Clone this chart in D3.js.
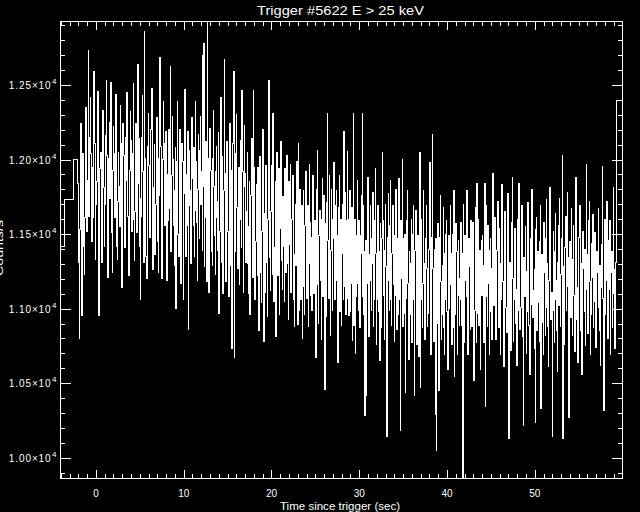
<!DOCTYPE html>
<html>
<head>
<meta charset="utf-8">
<script src="https://cdn.jsdelivr.net/npm/d3@7"></script>
<style>
  html, body { margin: 0; padding: 0; background: #000; }
  svg { display: block; }
  text { fill: #fff; font-family: "Liberation Sans", Arial, sans-serif; }
</style>
</head>
<body>
<div id="chart"></div>
<script>
/* BATSE light curve - Trigger #5622, E > 25 keV */

const chartTitle = 'Trigger #5622 E > 25 keV';
const xTitle = 'Time since trigger (sec)';
const yTitle = 'Counts/s';

// Coarse 1.024 s bins before the fine data starts
const preEdges = [-4.608, -3.584, -2.56, -2.048];
const preRates = [11420, 11730, 12000];

// Fine 64 ms bins starting at -2.048 s
const fineStart = -2.048;
const fineWidth = 0.064;
const fineRates = [
  11840, 11310, 10802, 11530, 11930, 12240, 12190, 10952, 12040, 11720, 11420, 11230, 11610, 12140, 12350, 11950, 11520, 11860, 12735, 11620,
  11720, 12150, 12420, 12040, 11450, 11540, 11950, 11610, 12594, 12230, 12110, 11330, 11700, 11850, 12020, 12460, 11510, 10952, 11250, 11940,
  12050, 11600, 11310, 11520, 12330, 11920, 11810, 11420, 11700, 12160, 12530, 12030, 11640, 11210, 11500, 12010, 12250, 11740, 12515, 11850,
  11510, 11240, 11930, 12220, 12040, 11610, 12150, 12440, 11960, 11420, 11330, 11720, 12050, 11820, 11550, 12360, 12110, 11650, 11140, 11930,
  12240, 12030, 11740, 11410, 11520, 12150, 11860, 12450, 12010, 11620, 11220, 11430, 11930, 12320, 12130, 11710, 11520, 12040, 12510, 11600,
  11320, 11650, 12020, 12240, 11950, 11510, 12641, 11840, 12140, 11420, 11740, 11064, 11620, 12150, 12430, 11920, 11530, 11310, 12862, 12010,
  11790, 11350, 11200, 11690, 12090, 12310, 11960, 11560, 11480, 11890, 12200, 12480, 11870, 11260, 11570, 11810, 12100, 11360, 11700, 11990,
  12280, 11870, 11450, 11240, 12010, 11760, 12688, 12090, 11650, 11205, 11370, 12000, 12390, 12110, 11560, 11690, 12190, 11480, 11190, 11900,
  11590, 12120, 12200, 11670, 12627, 11380, 11460, 11890, 12290, 12000, 11560, 11290, 11790, 12080, 11003, 11660, 11990, 12390, 11500, 11350,
  11880, 12200, 11570, 11170, 11690, 12110, 11990, 11064, 11770, 12280, 12470, 11480, 11350, 11900, 11560, 12190, 10862, 11690, 12060, 11790,
  11460, 11300, 12000, 12280, 11870, 11560, 12080, 11350, 11660, 12390, 11990, 11580, 11190, 11800, 12170, 11900, 11470, 12060, 12290, 11700,
  11920, 11390, 12700, 11820, 12780, 11280, 11610, 12120, 11700, 11180, 12930, 12010, 11480, 11110, 11800, 12210, 11930, 11380, 11710, 11290,
  12010, 12330, 11820, 11490, 11230, 11920, 12090, 11610, 11390, 11720, 12180, 10968, 11520, 11900, 12420, 11310, 11580, 12020, 11100, 11790,
  12672, 11910, 11420, 11180, 11690, 12120, 11790, 11520, 11080, 12000, 12240, 11640, 11290, 11930, 10733, 11470, 12110, 12594, 10670, 11810,
  11380, 12040, 12300, 11680, 11270, 11520, 11950, 11160, 11790, 12130, 11600, 11410, 12466, 11920, 11110, 11820, 12230, 11910, 11470, 11310,
  11650, 12050, 11300, 11100, 11550, 11850, 10960, 11330, 11760, 12140, 11620, 11210, 12466, 11420, 11950, 11060, 11450, 11830, 11740, 11220,
  11950, 11420, 10856, 11770, 12020, 11240, 11040, 11520, 11840, 12200, 11320, 10777, 11640, 11110, 11960, 11720, 11310, 10950, 11600, 11860,
  12533, 11340, 11120, 11650, 11960, 11720, 11230, 12310, 11510, 11050, 11410, 11850, 10811, 11290, 12050, 11650, 11220, 11940, 10960, 11540,
  11860, 12120, 11640, 11320, 11130, 11750, 11420, 11050, 11940, 11620, 11240, 11510, 12030, 11300, 10930, 11850, 11730, 11430, 11970, 11110,
  11160, 11600, 11890, 11470, 11060, 10880, 11360, 11700, 11290, 11990, 11570, 10894, 12108, 10990, 11170, 11800, 11450, 11060, 11690, 10800,
  11470, 11790, 11150, 10960, 11560, 11920, 11290, 11070, 11390, 11690, 10880, 11300, 11970, 11580, 11090, 11480, 10990, 11720, 11890, 11210,
  11100, 11360, 11590, 10670, 11280, 11800, 12060, 11160, 10900, 11490, 11660, 11190, 11410, 10790, 11600, 11870, 11080, 11470, 11760, 10458,
  11570, 10950, 11290, 11710, 12310, 11460, 11070, 11890, 11160, 10820, 11390, 11800, 11600, 10990, 11470, 11980, 11300, 11060, 11690, 11190,
  11790, 11490, 10636, 11160, 11680, 11890, 10980, 11270, 11600, 10890, 11370, 11700, 11060, 12190, 11470, 11150, 11780, 10960, 11590, 12057,
  11070, 11600, 10952, 11400, 11790, 10980, 11170, 11680, 10785, 11490, 12310, 10890, 11270, 11600, 10700, 11080, 11490, 11860, 11170, 10990,
  11590, 11300, 10870, 11490, 11760, 11370, 12310, 11080, 11690, 10960, 11380, 10280, 11460, 10420, 11170, 11570, 11880, 11100, 10810, 11360,
  11690, 11190, 10990, 11470, 11300, 11780, 10880, 11060, 11590, 11940, 11370, 10760, 11060, 11490, 11690, 10980, 11380, 10654, 11570, 11180,
  10870, 11470, 12048, 11590, 11090, 10790, 11390, 11700, 11280, 10970, 10140, 11480, 11770, 11190, 10990, 11560, 11860, 11060, 10890, 11370,
  11690, 11160, 11490, 10780, 11090, 11580, 11800, 11290, 10860, 11470, 10960, 11870, 11370, 11060, 10185, 11590, 11200, 12001, 10880, 11470,
  11290, 10970, 11500, 10436, 11070, 11590, 11790, 11170, 10890, 10660, 11380, 11300, 10960, 11600, 10770, 11200, 11500, 11690, 11060, 10420,
  11390, 11660, 11090, 10760, 11290, 11490, 10990, 10680, 12048, 10469, 11360, 11600, 11060, 10870, 11170, 11790, 11300, 10790, 10980, 11470,
  11690, 11270, 10880, 10970, 11400, 11580, 11981, 11090, 10690, 11200, 11480, 12168, 11270, 10780, 11400, 10980, 10292, 11470, 10046, 10900,
  11380, 11570, 10453, 11090, 11480, 11760, 11180, 10790, 10960, 11290, 11680, 10870, 10690, 11370, 11060, 11500, 11590, 10980, 10590, 11300,
  11490, 11000, 11160, 11690, 11370, 10760, 11100, 11500, 10870, 11790, 10543, 11270, 10960, 11570, 11380, 10690, 11090, 11460, 11200, 10890,
  11060, 11580, 11270, 10890, 11370, 9860, 11700, 10990, 10770, 11490, 11190, 11080, 11790, 11390, 10690, 10990, 11470, 11280, 10860, 11590,
  11370, 10880, 11090, 11580, 11270, 10520, 10990, 11490, 11680, 10770, 11840, 11200, 10970, 11600, 10890, 11390, 10590, 11270, 11460, 11090,
  11490, 11290, 10770, 10990, 11840, 10341, 11390, 11690, 11080, 10880, 11560, 11170, 10690, 11390, 11470, 10980, 11270, 10790, 11907, 11200,
  11020, 11480, 11610, 11230, 10790, 10980, 11390, 11720, 11150, 10870, 11540, 11300, 10690, 11060, 11830, 11410, 11180, 10920, 10610, 11270,
  11650, 11380, 11010, 10840, 11220, 11770, 11450, 10129, 11090, 11310, 10720, 10950, 11580, 11880, 11200, 10780, 11060, 11420, 11540, 10900,
  11130, 10620, 11370, 11600, 10990, 11840, 11270, 10860, 11010, 11490, 11690, 11120, 10810, 10218, 11340, 11080, 11550, 11250, 10700, 10980,
  11420, 11710, 11230, 10890, 10560, 11180, 11470, 11030, 11800, 11350, 10940, 11120, 10730, 11260, 10235, 11530, 11610, 10850, 11090, 11380,
  11040, 10780, 11450, 11690, 10330, 11150, 11360, 10910, 10690, 11580, 11240, 11470, 10820, 11010, 11730, 11300, 10880, 10610, 11190, 11420,
  11815, 11260, 10930, 11110, 10140, 10990, 11520, 11380, 10770, 11060, 11640, 11190, 10850, 10580, 11310, 11560, 11020, 11740, 11120, 10880,
  11230, 11470, 12030, 10129, 11280, 11050, 10760, 11410, 11620, 10990, 11150, 11780, 11340, 10870, 10268, 11190, 11450, 10940, 11670, 11080,
  10820, 11330, 11560, 11090, 10710, 11250, 11880, 11400, 10930, 11140, 10640, 11020, 11480, 11690, 11170, 10850, 11300, 10560, 11060, 11520,
  11270, 10980, 11400, 10750, 11130, 11970, 11360, 11060, 10830, 11590, 11720, 11180, 10690, 10960, 11440, 11210, 11630, 10870, 11050, 11330,
  11510, 11080, 10740, 10920, 11380, 11240, 11670, 11010, 10850, 11290, 10620, 11140, 11430, 11956, 11070, 10900, 10315, 11480, 11600, 10960,
  11190, 11720, 11350, 10800, 11040, 11460, 11130, 11590, 10690, 11240, 11380, 10870, 11100, 11810, 11260, 10980, 10730, 11310
];

// Coarse bin after the fine data ends
const postEdges = [59.264, 60.288];
const postRates = [12395];

// Axis ticks
const xMajor = [0, 10, 20, 30, 40, 50];
const xMinor = d3.range(-4, 60, 1);
const yMajor = [10000, 10500, 11000, 11500, 12000, 12500];
const yMinor = d3.range(9900, 12930, 100);

const width = 640, height = 512;
const plot = { left: 60, right: 622.5, top: 21, bottom: 478.5 };

const svg = d3.select('#chart')
  .append('svg')
  .attr('width', width)
  .attr('height', height)
  .style('background', '#000');

const x = d3.scaleLinear().domain([-4.096, 60]).range([plot.left, plot.right]);
const y = d3.scaleLinear().domain([9860, 12930]).range([plot.bottom, plot.top]);

// Build the step series
const points = [];
preRates.forEach((v, i) => points.push({ t: preEdges[i], v }));
fineRates.forEach((v, i) => points.push({ t: fineStart + i * fineWidth, v }));
points.push({ t: postEdges[0], v: postRates[0] });
points.push({ t: postEdges[1], v: postRates[0] });

svg.append('clipPath')
  .attr('id', 'plot-clip')
  .append('rect')
  .attr('x', plot.left)
  .attr('y', plot.top)
  .attr('width', plot.right - plot.left)
  .attr('height', plot.bottom - plot.top);

const line = d3.line()
  .x(d => x(d.t))
  .y(d => y(d.v))
  .curve(d3.curveStepAfter);

svg.append('path')
  .datum(points)
  .attr('clip-path', 'url(#plot-clip)')
  .attr('fill', 'none')
  .attr('stroke', '#fff')
  .attr('stroke-width', 1)
  .attr('shape-rendering', 'crispEdges')
  .attr('d', line);

// ============================================
// Axes (ticks point inward, IDL style)
// ============================================
function styleAxis(g) {
  g.select('.domain').remove();
  g.selectAll('line')
    .attr('stroke', '#fff')
    .attr('shape-rendering', 'crispEdges');
  g.selectAll('text').remove();
}

// bottom
svg.append('g').attr('transform', `translate(0,${plot.bottom})`)
  .call(d3.axisBottom(x).tickValues(xMinor).tickSize(-4.5)).call(styleAxis);
svg.append('g').attr('transform', `translate(0,${plot.bottom})`)
  .call(d3.axisBottom(x).tickValues(xMajor).tickSize(-9)).call(styleAxis);
// top
svg.append('g').attr('transform', `translate(0,${plot.top})`)
  .call(d3.axisTop(x).tickValues(xMinor).tickSize(-4.5)).call(styleAxis);
svg.append('g').attr('transform', `translate(0,${plot.top})`)
  .call(d3.axisTop(x).tickValues(xMajor).tickSize(-9)).call(styleAxis);
// left
svg.append('g').attr('transform', `translate(${plot.left},0)`)
  .call(d3.axisLeft(y).tickValues(yMinor).tickSize(-5)).call(styleAxis);
svg.append('g').attr('transform', `translate(${plot.left},0)`)
  .call(d3.axisLeft(y).tickValues(yMajor).tickSize(-10.5)).call(styleAxis);
// right
svg.append('g').attr('transform', `translate(${plot.right},0)`)
  .call(d3.axisRight(y).tickValues(yMinor).tickSize(-5)).call(styleAxis);
svg.append('g').attr('transform', `translate(${plot.right},0)`)
  .call(d3.axisRight(y).tickValues(yMajor).tickSize(-11)).call(styleAxis);

// frame
svg.append('rect')
  .attr('x', plot.left)
  .attr('y', plot.top)
  .attr('width', plot.right - plot.left)
  .attr('height', plot.bottom - plot.top)
  .attr('fill', 'none')
  .attr('stroke', '#fff')
  .attr('shape-rendering', 'crispEdges');

// x tick labels
svg.selectAll('.xlabel')
  .data(xMajor)
  .enter()
  .append('text')
  .attr('class', 'xlabel')
  .attr('x', d => x(d))
  .attr('y', 496.5)
  .attr('text-anchor', 'middle')
  .attr('font-size', '10px')
  .text(d => d);

// y tick labels: mantissa x 10^4
const ylab = svg.selectAll('.ylabel')
  .data(yMajor)
  .enter()
  .append('text')
  .attr('class', 'ylabel')
  .attr('x', 56.5)
  .attr('y', d => y(d) + 4.3)
  .attr('text-anchor', 'end')
  .attr('font-size', '10px')
  .attr('letter-spacing', '0.9px');

ylab.append('tspan').text(d => d3.format('.2f')(d / 1e4) + '\u00d710');
ylab.append('tspan')
  .attr('dy', -5)
  .attr('dx', 0.5)
  .attr('font-size', '8px')
  .attr('letter-spacing', '0px')
  .text('4');

// titles
svg.append('text')
  .attr('x', 340.5)
  .attr('y', 15)
  .attr('text-anchor', 'middle')
  .attr('font-size', '13.5px')
  .attr('textLength', 167)
  .attr('lengthAdjust', 'spacingAndGlyphs')
  .text(chartTitle);

svg.append('text')
  .attr('x', 340)
  .attr('y', 509.5)
  .attr('text-anchor', 'middle')
  .attr('font-size', '11px')
  .attr('textLength', 120)
  .attr('lengthAdjust', 'spacingAndGlyphs')
  .text(xTitle);

// y title sits mostly off the left edge, as in the original plot
svg.append('text')
  .attr('transform', 'translate(2.5,248) rotate(-90)')
  .attr('text-anchor', 'middle')
  .attr('font-size', '10px')
  .attr('textLength', 56)
  .attr('lengthAdjust', 'spacingAndGlyphs')
  .text(yTitle);
</script>
</body>
</html>
